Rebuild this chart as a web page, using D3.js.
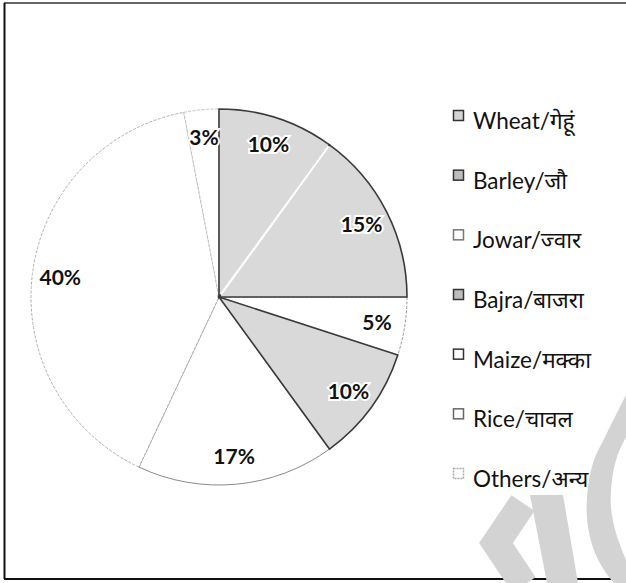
<!DOCTYPE html>
<html>
<head>
<meta charset="utf-8">
<script src="https://cdn.jsdelivr.net/npm/d3@7"></script>
<style>
  html, body { margin: 0; padding: 0; background: #fff; }
  svg { display: block; }
</style>
</head>
<body>
<svg id="chart" width="626" height="583"></svg>
<script>
// ---- data ----
const categories = ["Wheat/गेहूं", "Barley/जौ", "Jowar/ज्वार", "Bajra/बाजरा", "Maize/मक्का", "Rice/चावल", "Others/अन्य"];
const values = [10, 15, 5, 10, 17, 40, 3];
const valueLabels = ["10%", "15%", "5%", "10%", "17%", "40%", "3%"];

// ---- styles (separate from data) ----
const sliceFills = ["#d9d9d9", "#d9d9d9", "#ffffff", "#d9d9d9", "#ffffff", "#ffffff", "#ffffff"];
const sliceStrokes = ["#3a3a3a", "#3a3a3a", "#9a9a9a", "#3a3a3a", "#8a8a8a", "#b0b0b0", "#c0c0c0"];
const legendFills = ["#d4d4d4", "#bdbdbd", "#ffffff", "#bdbdbd", "#ffffff", "#ffffff", "#ffffff"];
const legendStrokes = ["#333", "#333", "#777", "#333", "#333", "#666", "#aaa"];

const svg = d3.select("#chart");
const W = 626, H = 583;

// frame
svg.append("line").attr("x1", 4).attr("y1", 3).attr("x2", W).attr("y2", 3).attr("stroke", "#666").attr("stroke-width", 2);
svg.append("line").attr("x1", 4.5).attr("y1", 3).attr("x2", 4.5).attr("y2", 579).attr("stroke", "#111").attr("stroke-width", 2);
svg.append("line").attr("x1", 4).attr("y1", 579).attr("x2", W).attr("y2", 579).attr("stroke", "#111").attr("stroke-width", 2);

// watermark (decorative, not data)
const wmColor = "#d3d3d3";
const wm = svg.append("g").attr("fill", wmColor);
const curve = d3.line().curve(d3.curveCatmullRom);
const ringOuter = [[626, 395], [607, 433], [593, 463], [587, 497], [588, 527], [595, 553], [606, 573], [614, 583]];
const ringInner = [[626, 560], [616, 533], [611, 507], [612, 480], [617, 457], [626, 437]];
wm.append("path").attr("d", curve(ringOuter) + "L626,583" + curve(ringInner).replace("M", "L") + "Z");
wm.append("path").attr("d", "M530,495 L563,495 L578,583 L547,583 Z");
wm.append("path").attr("d", "M523,503 L496,543 L524,585").attr("fill", "none")
  .attr("stroke", wmColor).attr("stroke-width", 28).attr("stroke-linejoin", "miter");

// ---- pie ----
const cx = 219, cy = 297, R = 188;
const g = svg.append("g").attr("transform", `translate(${cx},${cy})`);
const pie = d3.pie().value(d => d).sort(null);
const arcs = pie(values);
const arc = d3.arc().innerRadius(0).outerRadius(R);
const labelArc = d3.arc().innerRadius(160).outerRadius(160);

// draw white slices first, then grey ones so dark edges sit on top
const order = d3.range(arcs.length).sort((a, b) => (sliceFills[a] === "#ffffff" ? 0 : 1) - (sliceFills[b] === "#ffffff" ? 0 : 1));
g.selectAll("path.slice").data(order).join("path")
  .attr("class", "slice")
  .attr("d", i => arc(arcs[i]))
  .attr("fill", i => sliceFills[i])
  .attr("stroke", i => sliceStrokes[i])
  .attr("stroke-width", i => sliceFills[i] === "#ffffff" ? 1 : 1.6)
  .attr("stroke-dasharray", i => sliceFills[i] === "#ffffff" && i !== 4 ? "3,1.5" : null);

// white separator between adjacent grey slices
arcs.forEach((a, i) => {
  const next = (i + 1) % arcs.length;
  if (sliceFills[i] !== "#ffffff" && sliceFills[next] !== "#ffffff") {
    const ang = a.endAngle;
    g.append("line")
      .attr("x1", Math.sin(ang) * 3).attr("y1", -Math.cos(ang) * 3)
      .attr("x2", Math.sin(ang) * (R - 1.5)).attr("y2", -Math.cos(ang) * (R - 1.5))
      .attr("stroke", "#fff").attr("stroke-width", 2.5);
  }
});

// labels
g.selectAll("text.lbl").data(arcs).join("text")
  .attr("class", "lbl")
  .attr("transform", d => `translate(${labelArc.centroid(d)})`)
  .attr("text-anchor", "middle")
  .attr("dy", "0.36em")
  .attr("font-family", "Lato, 'Open Sans', sans-serif")
  .attr("font-weight", "bold")
  .attr("font-size", 21)
  .attr("fill", "#111")
  .attr("stroke", "#fff").attr("stroke-width", 4).attr("paint-order", "stroke")
  .text((d, i) => valueLabels[i]);

// ---- legend ----
const legendY = d3.scalePoint().domain(d3.range(categories.length)).range([129, 487]);
const lg = svg.append("g");
const items = lg.selectAll("g.item").data(categories).join("g")
  .attr("class", "item")
  .attr("transform", (d, i) => `translate(453,${legendY(i)})`);
items.append("rect")
  .attr("x", 0.5).attr("y", -18.5).attr("width", 10).attr("height", 10)
  .attr("fill", (d, i) => legendFills[i])
  .attr("stroke", (d, i) => legendStrokes[i])
  .attr("stroke-width", 1.5)
  .attr("stroke-dasharray", (d, i) => i === 6 ? "2,1" : null);
items.append("text")
  .attr("x", 20).attr("y", 0)
  .attr("font-family", "Lato, 'Noto Sans', sans-serif")
  .attr("font-size", 22.5)
  .attr("fill", "#111")
  .text(d => d);
</script>
</body>
</html>
